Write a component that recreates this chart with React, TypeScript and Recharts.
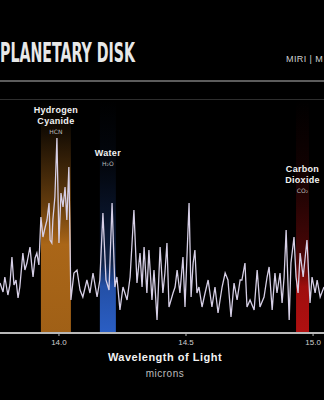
import React from 'react';
import { LineChart, Line, XAxis, YAxis, ReferenceArea } from 'recharts';

// Wavelength (microns) of each sample of the spectrum
const wavelength = [
  13.768, 13.78, 13.787, 13.799, 13.807, 13.815, 13.823, 13.831, 13.839, 13.846,
  13.858, 13.866, 13.874, 13.886, 13.894, 13.898, 13.906, 13.913, 13.921, 13.929,
  13.937, 13.945, 13.953, 13.961, 13.965, 13.972, 13.976, 13.984, 13.992, 14.0,
  14.008, 14.016, 14.024, 14.031, 14.039, 14.047, 14.059, 14.071, 14.083, 14.094,
  14.11, 14.122, 14.134, 14.15, 14.161, 14.173, 14.185, 14.197, 14.209, 14.22,
  14.228, 14.24, 14.252, 14.268, 14.28, 14.295, 14.307, 14.319, 14.327, 14.335,
  14.346, 14.354, 14.366, 14.374, 14.386, 14.398, 14.409, 14.417, 14.425, 14.433,
  14.449, 14.457, 14.465, 14.476, 14.488, 14.496, 14.512, 14.52, 14.528, 14.535,
  14.543, 14.551, 14.563, 14.575, 14.587, 14.602, 14.614, 14.626, 14.642, 14.654,
  14.665, 14.677, 14.689, 14.701, 14.713, 14.72, 14.732, 14.74, 14.752, 14.768,
  14.78, 14.791, 14.807, 14.819, 14.827, 14.839, 14.85, 14.858, 14.87, 14.878,
  14.886, 14.894, 14.906, 14.913, 14.925, 14.933, 14.941, 14.949, 14.961, 14.969,
  14.976, 14.988, 14.996, 15.008, 15.016, 15.028, 15.043,
];

// Relative flux
const flux = [
  0.5, 0.41, 0.56, 0.38, 0.48, 0.76, 0.48, 0.53, 0.35, 0.46,
  0.8, 0.63, 0.7, 0.86, 0.65, 0.56, 0.75, 0.8, 0.68, 1.16,
  0.96, 1.05, 1.13, 1.3, 0.93, 0.9, 1.13, 1.36, 1.95, 0.9,
  1.4, 1.26, 1.46, 1.13, 1.66, 0.33, 0.6, 0.63, 0.43, 0.36,
  0.53, 0.4, 0.6, 0.36, 0.53, 1.2, 0.53, 0.43, 1.3, 0.46,
  0.56, 0.23, 0.46, 0.33, 0.56, 1.23, 0.5, 0.8, 0.46, 0.86,
  0.4, 0.83, 0.33, 0.63, 0.13, 0.86, 0.4, 0.6, 0.9, 0.26,
  0.4, 0.46, 0.63, 0.4, 0.76, 0.26, 1.3, 0.36, 0.7, 0.83,
  0.4, 0.46, 0.26, 0.4, 0.53, 0.26, 0.46, 0.2, 0.46, 0.6,
  0.53, 0.16, 0.5, 0.33, 0.53, 0.53, 0.7, 0.26, 0.33, 0.23,
  0.63, 0.26, 0.36, 0.56, 0.66, 0.23, 0.6, 0.4, 0.6, 0.3,
  0.56, 1.03, 0.13, 0.7, 0.96, 0.56, 0.4, 0.8, 0.56, 0.76,
  0.93, 0.3, 0.56, 0.4, 0.53, 0.36, 0.46,
];

const xDomain = [13.768, 15.043];
const xTicks = [14.0, 14.5, 15.0];
const yDomain = [0, 2.33];

// Molecule bands (microns)
const bandNames = ['Hydrogen|Cyanide', 'Water', 'Carbon|Dioxide'];
const bandFormulas = ['HCN', 'H₂O', 'CO₂'];
const bandStart = [13.929, 14.161, 14.933];
const bandEnd = [14.047, 14.224, 14.984];

const data = wavelength.map((w, i) => ({ w, f: flux[i] }));

const bandStyles = [
  { id: 'gHCN', color: '#c8781c', stops: [[0, 0], [0.13, 0.1], [0.45, 0.5], [0.62, 0.85], [1, 0.8]], labelTop: 110 },
  { id: 'gH2O', color: '#2a5ec4', stops: [[0, 0], [0.3, 0.08], [0.7, 0.35], [0.8, 0.85], [1, 1]], labelTop: 153 },
  { id: 'gCO2', color: '#b01010', stops: [[0, 0], [0.3, 0.1], [0.7, 0.45], [0.8, 0.9], [1, 1]], labelTop: 169 },
];

const sans = '"Liberation Sans", Arial, sans-serif';

function MolLabel(props: any) {
  const { viewBox, name, formula, top } = props;
  if (!viewBox) return null;
  const cx = viewBox.x + viewBox.width / 2;
  const lines = name.split('|');
  return (
    <g>
      {lines.map((l: string, i: number) => (
        <text key={i} x={cx} y={top + i * 11} textAnchor="middle" dominantBaseline="central"
          fill="#f2f2f2" fontSize={9} fontWeight="bold" fontFamily={sans} letterSpacing={0.3}>
          {l}
        </text>
      ))}
      <text x={cx} y={top + lines.length * 11 - 1} textAnchor="middle" dominantBaseline="central"
        fill="#bdbdbd" fontSize={6} fontFamily='"DejaVu Sans", sans-serif'>
        {formula}
      </text>
    </g>
  );
}

export default function App() {
  return (
    <div style={{ position: 'absolute', left: 0, top: 0, width: 324, height: 400, background: '#000', overflow: 'hidden' }}>
      <svg width={0} height={0} style={{ position: 'absolute' }}>
        <defs>
          {bandStyles.map((b) => (
            <linearGradient key={b.id} id={b.id} x1="0" y1="0" x2="0" y2="1">
              {b.stops.map(([o, a], i) => (
                <stop key={i} offset={o} stopColor={b.color} stopOpacity={a} />
              ))}
            </linearGradient>
          ))}
        </defs>
      </svg>
      <div style={{ position: 'absolute', left: 0, top: 0 }}>
        <LineChart width={324} height={400} data={data} margin={{ top: 100, right: 0, bottom: 0, left: 0 }}>
          <XAxis dataKey="w" type="number" domain={xDomain} ticks={xTicks} allowDataOverflow
            tickFormatter={(v: number) => v.toFixed(1)} height={67}
            axisLine={{ stroke: '#b8b8b8', strokeWidth: 2 }} tickLine={{ stroke: '#b8b8b8' }} tickSize={3} tickMargin={3}
            tick={{ fill: '#d0d0d0', fontSize: 8, fontFamily: sans }} />
          <YAxis hide domain={yDomain} allowDataOverflow />
          {bandNames.map((n, i) => (
            <ReferenceArea key={n} x1={bandStart[i]} x2={bandEnd[i]} y1={yDomain[0]} y2={yDomain[1]}
              fill={`url(#${bandStyles[i].id})`} fillOpacity={1} stroke="none" ifOverflow="visible"
              label={(p: any) => <MolLabel {...p} name={n} formula={bandFormulas[i]} top={bandStyles[i].labelTop} />} />
          ))}
          <Line type="linear" dataKey="f" stroke="#d6cfe6" strokeWidth={1.3} dot={false} isAnimationActive={false} />
        </LineChart>
      </div>
      <svg width={324} height={400} style={{ position: 'absolute', left: 0, top: 0, pointerEvents: 'none' }}>
        <text x={0} y={62} fill="#e8e8e8" fontSize={26} fontWeight="bold" fontFamily='"Liberation Sans Narrow", "DejaVu Sans Condensed", sans-serif'
          textLength={135} lengthAdjust="spacingAndGlyphs">PLANETARY DISK</text>
        <text x={286} y={61.5} fill="#cfcfcf" fontSize={9} fontFamily={sans} letterSpacing={0.4}>MIRI | M</text>
        <rect x={0} y={80} width={324} height={2} fill="#5c5c5c" />
        <rect x={0} y={99} width={324} height={1} fill="#2e2e2e" />
        <text x={165} y={357} textAnchor="middle" dominantBaseline="central" fill="#f2f2f2" fontSize={11}
          fontWeight="bold" fontFamily={sans} letterSpacing={0.5}>Wavelength of Light</text>
        <text x={165} y={373} textAnchor="middle" dominantBaseline="central" fill="#bdbdbd" fontSize={10}
          fontFamily={sans} letterSpacing={0.5}>microns</text>
      </svg>
    </div>
  );
}
